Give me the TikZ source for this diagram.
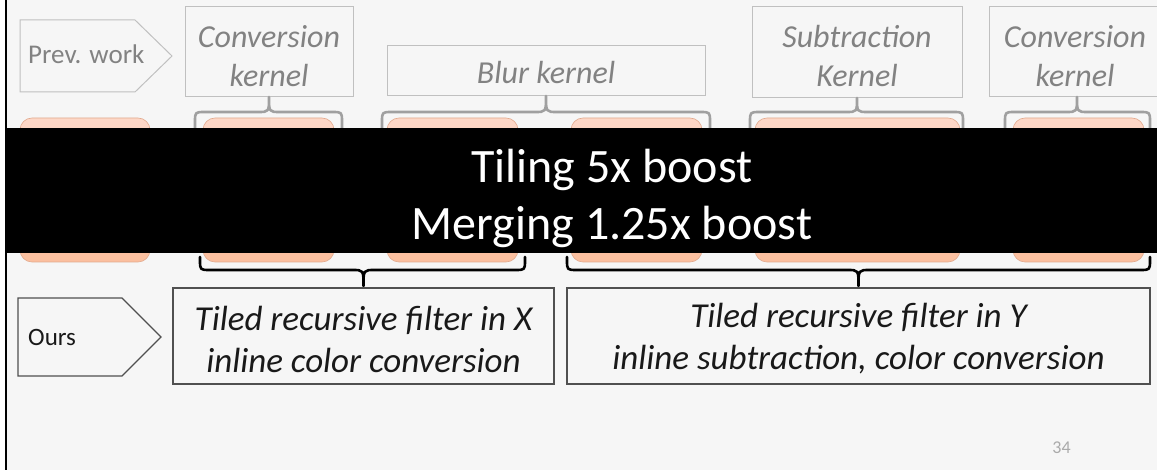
\documentclass[tikz,border=0pt]{standalone}
\usepackage{fontspec}
\setmainfont{Carlito}
\definecolor{slidebg}{RGB}{246,246,246}
\definecolor{greytext}{RGB}{130,130,130}
\definecolor{greyline}{RGB}{192,192,192}
\definecolor{bracegrey}{RGB}{160,160,160}
\definecolor{darkline}{RGB}{80,80,80}
\definecolor{peachtop}{RGB}{253,215,199}
\definecolor{peachbot}{RGB}{251,191,158}
\definecolor{peachedge}{RGB}{226,170,142}
\definecolor{pagegrey}{RGB}{170,170,170}

% curly brace: style, x left, x right, x tip, y of ends, y of bar, y of tip
\newcommand\curlybrace[7]{%
  \draw[#1] (#2,#5) -- (#2,{#6+10*sign(#5-#6)})
    .. controls (#2,#6) .. ({#2+10},#6)
    -- ({#4-11},#6) .. controls (#4,#6) .. (#4,#7)
    .. controls (#4,#6) .. ({#4+11},#6)
    -- ({#3-10},#6) .. controls (#3,#6) .. (#3,{#6+10*sign(#5-#6)})
    -- (#3,#5);}

\begin{document}
\begin{tikzpicture}[x=1pt,y=-1pt,
  kbox/.style={draw=greyline, line width=1, inner sep=0},
  ktext/.style={inner sep=0, align=center, text=greytext,
    font=\fontsize{32}{39}\selectfont\itshape},
  obox/.style={draw=darkline, line width=1.2, inner sep=0},
  otext/.style={inner sep=0, align=center, text=black!90,
    font=\fontsize{35}{42}\selectfont\itshape},
  peach/.style={rounded corners=12, draw=peachedge, line width=0.6,
    top color=peachtop, bottom color=peachbot, minimum height=144, inner sep=0},
  topbrace/.style={draw=bracegrey, line width=2.6, line cap=round, line join=round},
  botbrace/.style={draw=black, line width=2.6, line cap=round, line join=round},
  greyarrow/.style={draw=greyline, line width=1, fill=slidebg},
  darkarrow/.style={draw=darkline, line width=1.2, fill=slidebg},
  tagtext/.style={inner sep=0, anchor=base west}
]
\useasboundingbox (0,0) rectangle (1157,470);
% slide background and left edge
\fill[white] (0,0) rectangle (7,470);
\fill[slidebg] (7,0) rectangle (1157,470);
\fill[black] (5,0) rectangle (7,470);

% previous pipeline
\draw[greyarrow] (20,20) -- (135,20) -- (172,56) -- (135,92) -- (20,92) -- cycle;
\node[tagtext, text=greytext, font=\fontsize{27}{32}\selectfont] (prev) at (28,64) {Prev. work};

\node[kbox, minimum width=168, minimum height=90] (conv1) at (269,52) {};
\node[kbox, minimum width=318, minimum height=50] (blur) at (546,71) {};
\node[kbox, minimum width=210, minimum height=91] (subk) at (857,52.5) {};
\node[kbox, minimum width=172, minimum height=90] (conv2) at (1075,52) {};
\node[ktext] (conv1-t) at ([yshift=-4pt]conv1.center) {Conversion\\kernel};
\node[ktext] (blur-t) at ([yshift=-2pt]blur.center) {Blur kernel};
\node[ktext] (subk-t) at ([yshift=-4pt]subk.center) {Subtraction\\Kernel};
\node[ktext] (conv2-t) at ([yshift=-4pt]conv2.center) {Conversion\\kernel};

\curlybrace{topbrace}{195}{342}{269}{140}{112}{97}
\curlybrace{topbrace}{382}{710}{546}{140}{112}{96}
\curlybrace{topbrace}{750}{963}{857}{140}{112}{98}
\curlybrace{topbrace}{1005}{1150}{1077}{140}{112}{97}

% kernel passes
\node[peach, minimum width=130] (o1) at (85,190) {};
\node[peach, minimum width=131] (o2) at (268.5,190) {};
\node[peach, minimum width=131] (o3) at (452.5,190) {};
\node[peach, minimum width=131] (o4) at (636.5,190) {};
\node[peach, minimum width=205] (o5) at (857.5,190) {};
\node[peach, minimum width=131] (o6) at (1078.5,190) {};

% banner
\fill[black] (7,128) rectangle (1157,253);
\node[align=center, inner sep=0, text=white, font=\fontsize{48}{57}\selectfont] (boost) at (612,198)
  {Tiling 5x boost\\Merging 1.25x boost};

% our pipeline
\curlybrace{botbrace}{200}{525}{363.5}{257}{270}{286}
\curlybrace{botbrace}{567}{1150}{858.5}{257}{270}{286}

\draw[darkarrow] (18,298) -- (122,298) -- (161,337) -- (122,376) -- (18,376) -- cycle;
\node[tagtext, text=black!90, font=\fontsize{25}{30}\selectfont] (ours) at (28,345) {Ours};

\node[obox, minimum width=381, minimum height=96] (tx) at (363.5,336) {};
\node[obox, minimum width=583, minimum height=96] (ty) at (858.5,336) {};
\node[otext] (tx-t) at ([yshift=-3pt]tx.center) {Tiled recursive filter in X\\inline color conversion};
\node[otext] (ty-t) at ([yshift=-3pt]ty.center) {Tiled recursive filter in Y\\inline subtraction, color conversion};

\node[inner sep=0, anchor=base, text=pagegrey, font=\fontsize{18}{22}\selectfont] (page) at (1061.5,453) {34};
\end{tikzpicture}
\end{document}
